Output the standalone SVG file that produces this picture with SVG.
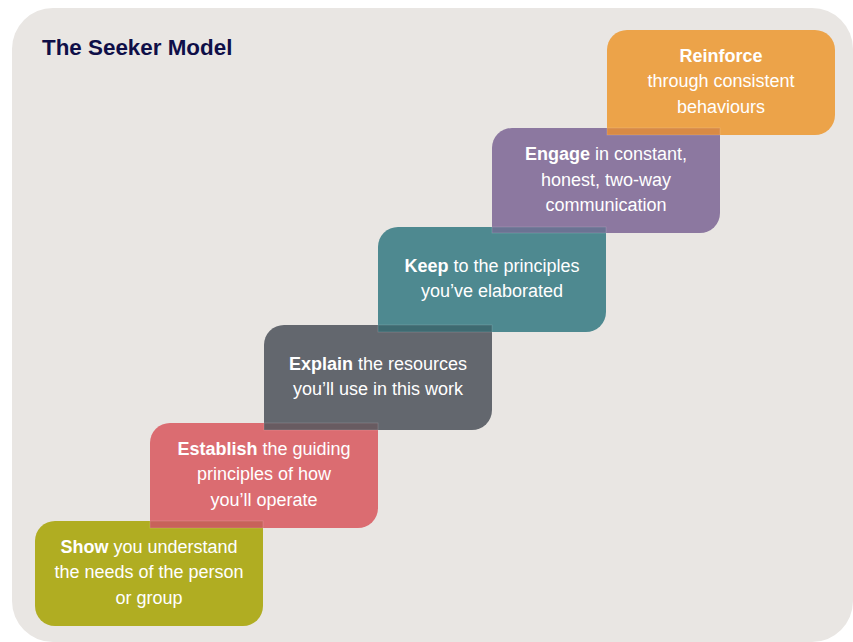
<svg xmlns="http://www.w3.org/2000/svg" width="853" height="642" viewBox="0 0 853 642">
  <style>
    .step { font-family: "Liberation Sans", Arial, sans-serif; font-size: 18px; fill: #ffffff; text-anchor: middle; }
    .step .b { font-weight: bold; }
    .title { font-family: "Liberation Sans", Arial, sans-serif; font-size: 22.4px; font-weight: bold; fill: #0f0f48; }
    .seam { stroke: #ffffff; stroke-opacity: 0.18; stroke-width: 0.8; }
  </style>

  <rect width="853" height="642" fill="#ffffff"/>
  <!-- panel -->
  <rect x="12" y="8" width="841" height="634" rx="41" ry="41" fill="#e9e6e3"/>

  <text class="title" x="42" y="54.5">The Seeker Model</text>

  <g id="step-show">
    <path d="M55,521 H263 V606 A20,20 0 0 1 243,626 H55 A20,20 0 0 1 35,606 V541 A20,20 0 0 1 55,521 Z" fill="#b0ad22"/>
    <text class="step" x="149" y="552.5"><tspan class="b">Show</tspan> you understand</text>
    <text class="step" x="149" y="578">the needs of the person</text>
    <text class="step" x="149" y="603.5">or group</text>
  </g>

  <g id="step-establish">
    <path d="M170,423 H378 V508 A20,20 0 0 1 358,528 H150 V443 A20,20 0 0 1 170,423 Z" fill="#db6c71"/>
    <text class="step" x="264" y="454.5"><tspan class="b">Establish</tspan> the guiding</text>
    <text class="step" x="264" y="480">principles of how</text>
    <text class="step" x="264" y="505.5">you’ll operate</text>
  </g>

  <g id="step-explain">
    <path d="M284,325 H492 V410 A20,20 0 0 1 472,430 H264 V345 A20,20 0 0 1 284,325 Z" fill="#63676e"/>
    <text class="step" x="378" y="369.5"><tspan class="b">Explain</tspan> the resources</text>
    <text class="step" x="378" y="395">you’ll use in this work</text>
  </g>

  <g id="step-keep">
    <path d="M398,227 H606 V312 A20,20 0 0 1 586,332 H378 V247 A20,20 0 0 1 398,227 Z" fill="#4e8990"/>
    <text class="step" x="492" y="271.5"><tspan class="b">Keep</tspan> to the principles</text>
    <text class="step" x="492" y="297">you’ve elaborated</text>
  </g>

  <g id="step-engage">
    <path d="M512,128 H720 V213 A20,20 0 0 1 700,233 H492 V148 A20,20 0 0 1 512,128 Z" fill="#8c78a0"/>
    <text class="step" x="606" y="160"><tspan class="b">Engage</tspan> in constant,</text>
    <text class="step" x="606" y="185.5">honest, two-way</text>
    <text class="step" x="606" y="211">communication</text>
  </g>

  <g id="step-reinforce">
    <path d="M627,30 H815 A20,20 0 0 1 835,50 V115 A20,20 0 0 1 815,135 H607 V50 A20,20 0 0 1 627,30 Z" fill="#eca349"/>
    <text class="step" x="721" y="61.5"><tspan class="b">Reinforce</tspan></text>
    <text class="step" x="721" y="87">through consistent</text>
    <text class="step" x="721" y="112.5">behaviours</text>
  </g>

  <!-- darker bands where neighbouring steps overlap -->
  <g id="overlaps">
    <rect class="seam" x="150" y="521" width="113" height="7" fill="#c8625a"/>
    <rect class="seam" x="264" y="423" width="114" height="7" fill="#685b61"/>
    <rect class="seam" x="378" y="325" width="114" height="7" fill="#3e6a71"/>
    <rect class="seam" x="492" y="227" width="114" height="6" fill="#6b7393"/>
    <rect class="seam" x="607" y="128" width="113" height="7" fill="#d88a45"/>
  </g>
</svg>
